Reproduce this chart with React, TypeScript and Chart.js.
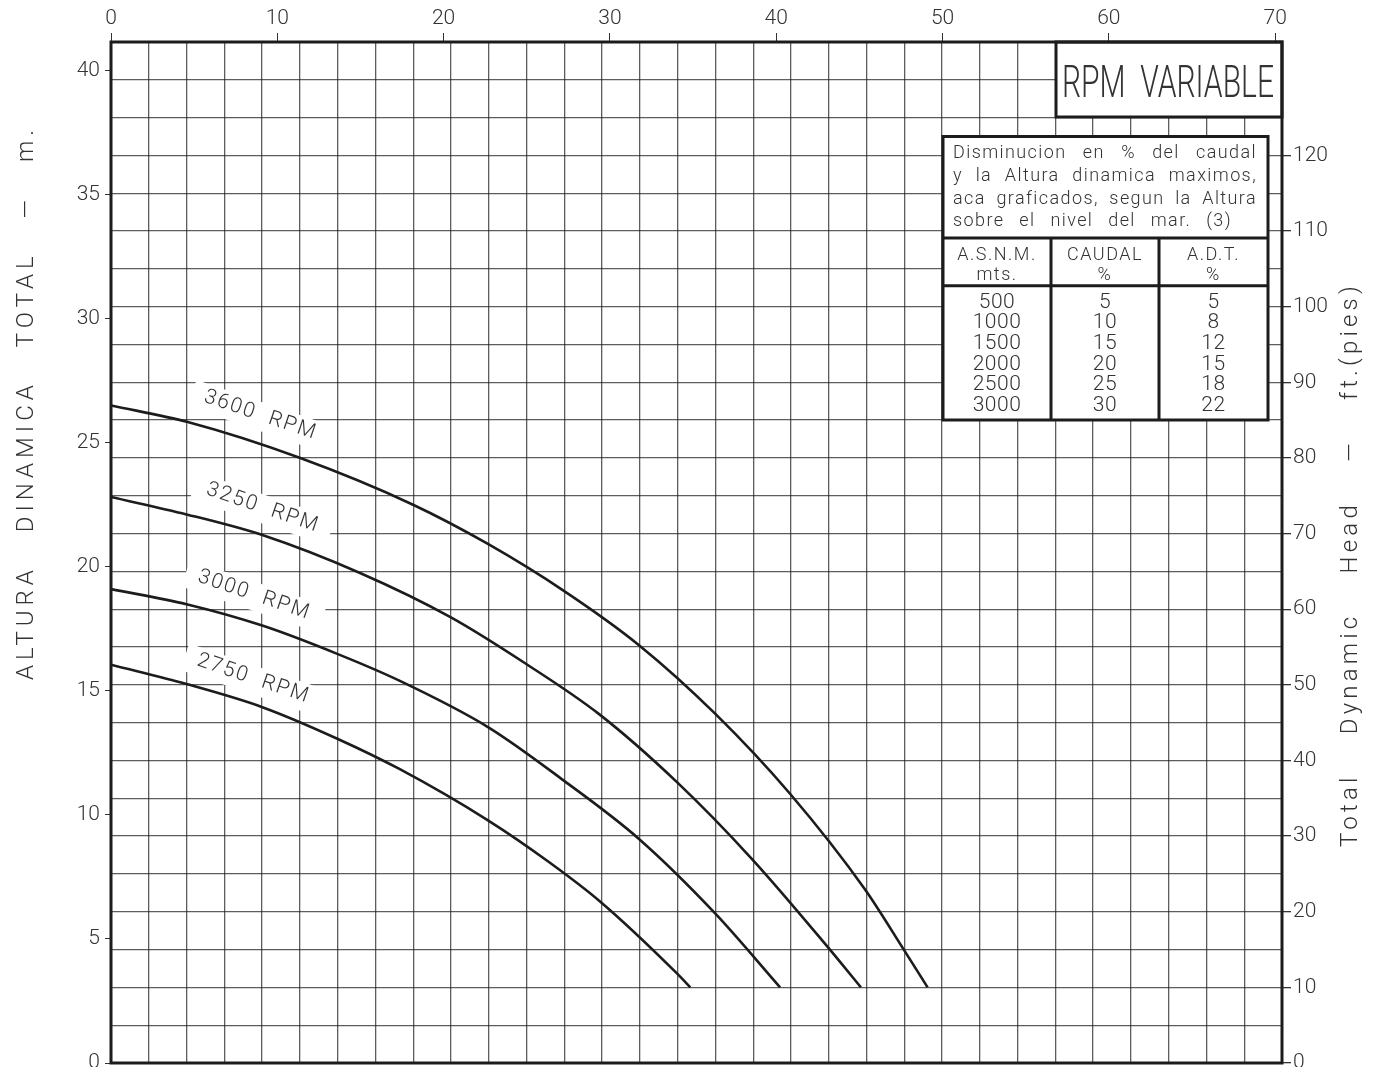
import React, { useEffect, useRef } from 'react';
import { Chart, registerables } from 'chart.js';

Chart.register(...registerables);

// ---------- data ----------
// Flow axis (m3/h) tick labels, top
const FLOW_TICKS = [0, 10, 20, 30, 40, 50, 60, 70];
// Flow axis ends at 310 US GPM (= 70.41 m3/h); vertical grid every 10 GPM
const FLOW_MAX = 70.41;
const GPM_MAX = 310;
const GPM_GRID = [0, 10, 20, 30, 40, 50, 60, 70, 80, 90, 100, 110, 120, 130, 140, 150, 160, 170, 180, 190, 200, 210, 220, 230, 240, 250, 260, 270, 280, 290, 300, 310];
// Head axis in metres (left) and feet (right); horizontal grid every 5 ft
const HEAD_M_TICKS = [0, 5, 10, 15, 20, 25, 30, 35, 40];
const HEAD_M_MAX = 41.148;
const HEAD_FT_MAX = 135;
const HEAD_FT_GRID = [0, 5, 10, 15, 20, 25, 30, 35, 40, 45, 50, 55, 60, 65, 70, 75, 80, 85, 90, 95, 100, 105, 110, 115, 120, 125, 130, 135];
const HEAD_FT_LABELS = [0, 10, 20, 30, 40, 50, 60, 70, 80, 90, 100, 110, 120];

// Curves: flow (m3/h) vs head (m)
const RPM_LABELS = ['3600  RPM', '3250  RPM', '3000  RPM', '2750  RPM'];

const Q3600 = [0, 4.56, 11.34, 18.13, 22.69, 27.23, 31.73, 36.34, 40.83, 45.33, 47.63, 49.1];
const H3600 = [26.5, 25.84, 24.39, 22.51, 20.91, 19.03, 16.85, 14.07, 10.85, 7.0, 4.61, 3.05];

const Q3250 = [0, 4.54, 9.14, 14.94, 20.44, 24.97, 29.33, 34.03, 38.53, 43.09, 45.09];
const H3250 = [22.81, 22.11, 21.27, 19.76, 17.96, 16.08, 14.07, 11.32, 8.23, 4.68, 3.05];

const Q3000 = [0, 4.54, 9.14, 13.64, 17.34, 22.69, 27.23, 31.73, 36.34, 40.23];
const H3000 = [19.1, 18.49, 17.62, 16.48, 15.41, 13.53, 11.38, 9.04, 6.02, 3.05];

const Q2750 = [0, 4.54, 9.14, 13.64, 17.34, 22.69, 26.33, 29.44, 34.03, 34.83];
const H2750 = [16.05, 15.27, 14.33, 13.06, 11.85, 9.77, 8.1, 6.49, 3.61, 3.05];

// Table
const TABLE_NOTE = [
  'Disminucion en % del caudal',
  'y la Altura dinamica maximos,',
  'aca graficados, segun la Altura',
  'sobre el nivel del mar. (3)',
];
const TABLE_HEAD_1 = ['A.S.N.M.', 'CAUDAL', 'A.D.T.'];
const TABLE_HEAD_2 = ['mts.', '%', '%'];
const ASNM = ['500', '1000', '1500', '2000', '2500', '3000'];
const CAUDAL_PCT = ['5', '10', '15', '20', '25', '30'];
const ADT_PCT = ['5', '8', '12', '15', '18', '22'];

const TITLE = 'RPM  VARIABLE';
const Y_TITLE = 'ALTURA DINAMICA TOTAL — m.';
const Y2_TITLE = 'Total Dynamic Head — ft.(pies)';

// ---------- styles ----------
const FAMILY = 'Roboto, "DejaVu Sans", sans-serif';
const INK = '#1c1c1c';
const TEXT = '#333333';
const GRID = 'rgba(30,30,30,0.72)';

// label anchor points (data coords) for curve labels
const LABEL_POS = [
  { x: 8.99, y: 26.1 },
  { x: 9.13, y: 22.37 },
  { x: 8.61, y: 18.85 },
  { x: 8.56, y: 15.48 },
];

function toPoints(xs: number[], ys: number[]) {
  return xs.map((x, i) => ({ x, y: ys[i] }));
}

function setSpacing(ctx: any, text: string, target: number) {
  ctx.letterSpacing = '0px';
  const w = ctx.measureText(text).width;
  const n = Math.max(text.length - 1, 1);
  const sp = (target - w) / n;
  ctx.letterSpacing = sp.toFixed(2) + 'px';
}

function justify(ctx: any, text: string, x0: number, x1: number, y: number) {
  const words = text.split(' ');
  const ws = words.map((w) => ctx.measureText(w).width);
  const total = ws.reduce((a, b) => a + b, 0);
  const gap = (x1 - x0 - total) / Math.max(words.length - 1, 1);
  let x = x0;
  ctx.textAlign = 'left';
  words.forEach((w, i) => {
    ctx.fillText(w, x, y);
    x += ws[i] + gap;
  });
}

const decorPlugin = {
  id: 'decor',
  afterDatasetsDraw(chart: any) {
    const ctx = chart.ctx;
    const a = chart.chartArea;
    const xs = chart.scales.x;
    const ys = chart.scales.y;

    // curve labels
    RPM_LABELS.forEach((lab, i) => {
      const px = xs.getPixelForValue(LABEL_POS[i].x);
      const py = ys.getPixelForValue(LABEL_POS[i].y);
      ctx.save();
      ctx.translate(px, py);
      ctx.rotate((18.7 * Math.PI) / 180);
      ctx.fillStyle = '#ffffff';
      ctx.fillRect(-72, -13, 144, 28);
      ctx.font = `300 21px ${FAMILY}`;
      ctx.fillStyle = TEXT;
      ctx.textAlign = 'center';
      ctx.textBaseline = 'middle';
      setSpacing(ctx, lab, 116);
      ctx.fillText(lab, 0, 0);
      ctx.restore();
    });

    // RPM VARIABLE box
    ctx.save();
    const bx0 = a.right - 226;
    const by0 = a.top;
    const bx1 = a.right;
    const by1 = a.top + 75;
    ctx.fillStyle = '#ffffff';
    ctx.fillRect(bx0, by0, bx1 - bx0, by1 - by0);
    ctx.strokeStyle = INK;
    ctx.lineWidth = 3;
    ctx.strokeRect(bx0, by0, bx1 - bx0, by1 - by0);
    ctx.font = `300 45px ${FAMILY}`;
    ctx.fillStyle = TEXT;
    ctx.textBaseline = 'alphabetic';
    ctx.textAlign = 'left';
    const tw = ctx.measureText(TITLE).width;
    const sx = 212 / tw;
    ctx.translate(bx0 + 6, by0 + 55);
    ctx.scale(sx, 1.0);
    ctx.fillText(TITLE, 0, 0);
    ctx.restore();

    // table
    ctx.save();
    const tx0 = a.right - 339;
    const tx1 = a.right - 14;
    const ty0 = a.top + 94.5;
    const ty1 = ty0 + 283.5;
    const c1 = tx0 + 108;
    const c2 = tx0 + 216;
    const d1 = ty0 + 101.6;
    const d2 = ty0 + 149.3;
    ctx.fillStyle = '#ffffff';
    ctx.fillRect(tx0, ty0, tx1 - tx0, ty1 - ty0);
    ctx.strokeStyle = INK;
    ctx.lineWidth = 3;
    ctx.strokeRect(tx0, ty0, tx1 - tx0, ty1 - ty0);
    ctx.beginPath();
    ctx.moveTo(tx0, d1); ctx.lineTo(tx1, d1);
    ctx.moveTo(tx0, d2); ctx.lineTo(tx1, d2);
    ctx.moveTo(c1, d1); ctx.lineTo(c1, ty1);
    ctx.moveTo(c2, d1); ctx.lineTo(c2, ty1);
    ctx.stroke();

    ctx.fillStyle = TEXT;
    ctx.font = `300 18px ${FAMILY}`;
    ctx.letterSpacing = '1.4px';
    ctx.textBaseline = 'alphabetic';
    const noteBase = [21.5, 44.3, 67.1, 89.9];
    TABLE_NOTE.forEach((line, i) => {
      const right = i === TABLE_NOTE.length - 1 ? tx0 + 289 : tx0 + 314;
      justify(ctx, line, tx0 + 10, right, ty0 + noteBase[i]);
    });

    const centers = [(tx0 + c1) / 2, (c1 + c2) / 2, (c2 + tx1) / 2];
    ctx.textAlign = 'center';
    ctx.textBaseline = 'middle';
    ctx.font = `300 18px ${FAMILY}`;
    ctx.letterSpacing = '1.5px';
    TABLE_HEAD_1.forEach((t, i) => ctx.fillText(t, centers[i], ty0 + 118.5));
    TABLE_HEAD_2.forEach((t, i) => ctx.fillText(t, centers[i], ty0 + 138.5));
    ctx.letterSpacing = '0.5px';
    ctx.font = `300 21px ${FAMILY}`;
    const cols = [ASNM, CAUDAL_PCT, ADT_PCT];
    cols.forEach((col, ci) => {
      col.forEach((t, ri) => {
        ctx.fillText(t, centers[ci], ty0 + 166 + ri * 20.65);
      });
    });
    ctx.restore();
  },
  afterDraw(chart: any) {
    const ctx = chart.ctx;
    const a = chart.chartArea;
    ctx.save();
    ctx.strokeStyle = INK;
    ctx.lineWidth = 3;
    ctx.strokeRect(a.left, a.top, a.right - a.left, a.bottom - a.top);

    ctx.fillStyle = TEXT;
    ctx.font = `300 24px ${FAMILY}`;
    ctx.textBaseline = 'alphabetic';
    // left title: reads bottom (y=680) to top (y=125)
    ctx.save();
    ctx.letterSpacing = '5px';
    ctx.translate(33, 680);
    ctx.rotate(-Math.PI / 2);
    justify(ctx, Y_TITLE, 0, 555, 0);
    ctx.restore();

    // right title: reads bottom (y=847) to top (y=282)
    ctx.save();
    ctx.letterSpacing = '4.2px';
    ctx.translate(1357, 847);
    ctx.rotate(-Math.PI / 2);
    justify(ctx, Y2_TITLE, 0, 565, 0);
    ctx.restore();
    ctx.restore();
  },
};

export default function App() {
  const ref = useRef<HTMLCanvasElement | null>(null);

  useEffect(() => {
    document.body.style.margin = '0';
    document.body.style.overflow = 'hidden';
    const canvas = ref.current;
    if (!canvas) return;
    const tickFont = { family: FAMILY, size: 21, weight: '300' as any };
    const lineDs = (xs: number[], ys: number[], label: string) => ({
      label,
      data: toPoints(xs, ys),
      borderColor: INK,
      borderWidth: 2.6,
      pointRadius: 0,
      fill: false,
      cubicInterpolationMode: 'monotone' as const,
      xAxisID: 'x',
      yAxisID: 'y',
    });
    const noPadV = (s: any) => { s.paddingTop = 0; s.paddingBottom = 0; };
    const chart = new Chart(canvas, {
      type: 'line',
      data: {
        datasets: [
          lineDs(Q3600, H3600, RPM_LABELS[0]),
          lineDs(Q3250, H3250, RPM_LABELS[1]),
          lineDs(Q3000, H3000, RPM_LABELS[2]),
          lineDs(Q2750, H2750, RPM_LABELS[3]),
        ],
      },
      options: {
        responsive: false,
        animation: false,
        events: [],
        layout: { padding: 0 },
        plugins: { legend: { display: false }, tooltip: { enabled: false } },
        scales: {
          x: {
            type: 'linear',
            position: 'top',
            min: 0,
            max: FLOW_MAX,
            afterBuildTicks: (s: any) => { s.ticks = FLOW_TICKS.map((v) => ({ value: v })); },
            afterFit: (s: any) => { s.height = 42; s.paddingLeft = 0; s.paddingRight = 0; },
            grid: { drawOnChartArea: false, tickLength: 9, tickColor: TEXT, lineWidth: 1 },
            border: { display: false },
            ticks: { font: tickFont, color: TEXT, padding: 2, autoSkip: false, maxRotation: 0 },
          },
          xg: {
            type: 'linear',
            position: 'bottom',
            min: 0,
            max: GPM_MAX,
            afterBuildTicks: (s: any) => { s.ticks = GPM_GRID.map((v) => ({ value: v })); },
            afterFit: (s: any) => { s.height = 4; s.paddingLeft = 0; s.paddingRight = 0; },
            grid: { color: GRID, lineWidth: 1.3, drawTicks: false },
            border: { display: false },
            ticks: { display: false },
          },
          y: {
            type: 'linear',
            position: 'left',
            min: 0,
            max: HEAD_M_MAX,
            afterBuildTicks: (s: any) => { s.ticks = HEAD_M_TICKS.map((v) => ({ value: v })); },
            afterFit: (s: any) => { s.width = 111; noPadV(s); },
            grid: { drawOnChartArea: false, tickLength: 6, tickColor: TEXT },
            border: { display: false },
            ticks: { font: tickFont, color: TEXT, padding: 5, autoSkip: false },
          },
          yft: {
            type: 'linear',
            position: 'right',
            min: 0,
            max: HEAD_FT_MAX,
            afterBuildTicks: (s: any) => { s.ticks = HEAD_FT_GRID.map((v) => ({ value: v })); },
            afterFit: (s: any) => { s.width = 115; noPadV(s); },
            grid: {
              color: GRID,
              lineWidth: 1.3,
              tickLength: 9,
              tickColor: (c: any) => (c.tick && HEAD_FT_LABELS.includes(c.tick.value) ? TEXT : 'rgba(0,0,0,0)'),
            },
            border: { display: false },
            ticks: {
              font: tickFont,
              color: TEXT,
              padding: 2,
              autoSkip: false,
              callback: (v: any) => (HEAD_FT_LABELS.includes(Number(v)) ? String(v) : ''),
            },
          },
        },
      },
      plugins: [decorPlugin],
    });
    return () => chart.destroy();
  }, []);

  return (
    <div style={{ width: 1397, height: 1067 }}>
      <canvas ref={ref} width={1397} height={1067} style={{ display: 'block' }} />
    </div>
  );
}
